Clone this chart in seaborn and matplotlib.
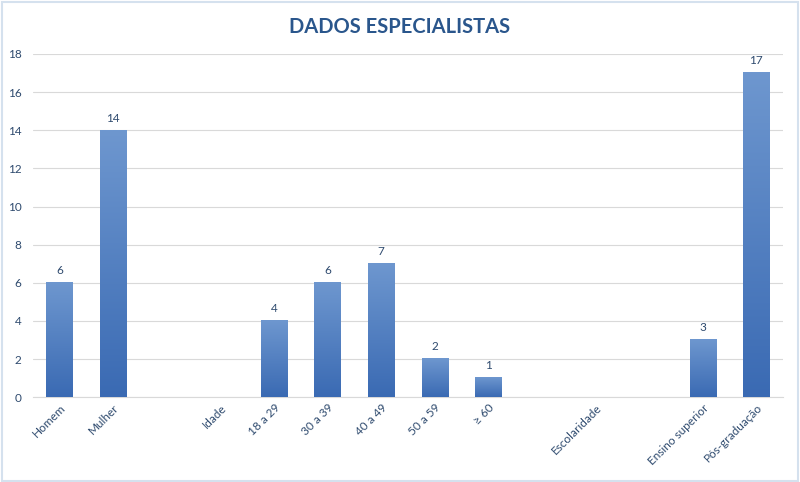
import matplotlib
matplotlib.use("Agg")
import matplotlib.pyplot as plt
import seaborn as sns
import numpy as np
import pandas as pd
from matplotlib.patches import Rectangle

# Data
order = ["Homem", "Mulher", " ", "Idade", "18 a 29", "30 a 39", "40 a 49",
         "50 a 59", "≥ 60", "  ", "Escolaridade", "   ", "Ensino superior", "Pós-graduação"]
categories = ["Homem", "Mulher", "18 a 29", "30 a 39", "40 a 49", "50 a 59", "≥ 60",
              "Ensino superior", "Pós-graduação"]
values = [6, 14, 4, 6, 7, 2, 1, 3, 17]
yticks = [0, 2, 4, 6, 8, 10, 12, 14, 16, 18]

sns.set_theme(style="white")
plt.rcParams['font.family'] = ['Lato', 'DejaVu Sans']

text_color = "#2E4A6E"
df = pd.DataFrame({"cat": categories, "val": values})

fig = plt.figure(figsize=(8, 4.82), dpi=100)
ax = fig.add_axes([0.041, 0.176, 0.938, 0.712])

sns.barplot(data=df, x="cat", y="val", order=order, color="#4A7CC0", width=0.49, ax=ax)

grad = np.linspace(0, 1, 256).reshape(-1, 1)
cmap = matplotlib.colors.LinearSegmentedColormap.from_list("g", ["#3A6AB3", "#6E97CF"])
for p in list(ax.patches):
    h = p.get_height()
    if not np.isfinite(h) or h <= 0:
        continue
    x0 = p.get_x(); w = p.get_width()
    ax.imshow(grad, extent=[x0, x0 + w, 0, h], origin="lower", aspect="auto",
              cmap=cmap, zorder=3)
    p.set_visible(False)
    ax.text(x0 + w / 2, h + 0.35, f"{int(h)}", ha="center", va="bottom",
            fontsize=8.5, color=text_color, zorder=4)

ax.set_xlim(-0.5, len(order) - 0.5)
ax.set_ylim(0, 18)
ax.set_yticks(yticks)
ax.yaxis.grid(True, color="#D9D9D9", linewidth=0.8, zorder=0)
ax.set_axisbelow(True)
for s in ["top", "right", "left"]:
    ax.spines[s].set_visible(False)
ax.spines["bottom"].set_color("#D9D9D9")
ax.spines["bottom"].set_linewidth(0.8)
ax.set_xlabel("")
ax.set_ylabel("")
ax.tick_params(axis="both", length=0, colors=text_color, labelsize=8.5)
ax.tick_params(axis="y", pad=8)
for lbl in ax.get_xticklabels():
    lbl.set_rotation(45)
    lbl.set_ha("right")
    lbl.set_rotation_mode("anchor")

fig.text(0.5, 0.944, "DADOS ESPECIALISTAS", ha="center", va="center",
         fontsize=14.5, fontweight="bold", color="#2A568C")

fig.patches.append(Rectangle((0.002, 0.003), 0.995, 0.993, transform=fig.transFigure,
                             fill=False, edgecolor="#D5E1EE", linewidth=1.5))

fig.savefig("out.png", dpi=100)
